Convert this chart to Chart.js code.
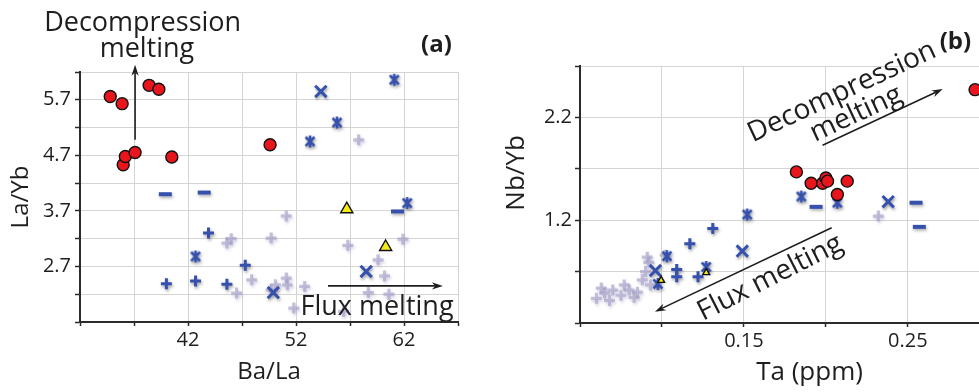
<!DOCTYPE html>
<html>
<head>
<meta charset="utf-8">
<title>Ba/La - La/Yb and Ta - Nb/Yb</title>
<script src="https://cdn.jsdelivr.net/npm/chart.js@4/dist/chart.umd.min.js"></script>
<style>
  html, body { margin: 0; padding: 0; background: #fff; overflow: hidden; }
  #wrap { position: relative; width: 979px; height: 392px; overflow: hidden; }
  #chart-a { position: absolute; left: 0; top: 0; }
  #chart-b { position: absolute; left: 480px; top: 0; }
</style>
</head>
<body>
<div id="wrap">
  <canvas id="chart-a" width="480" height="392"></canvas>
  <canvas id="chart-b" width="580" height="392"></canvas>
</div>
<script>
// --- (a) Ba/La vs La/Yb ---
const aXLabels = [42, 52, 62];
const aYLabels = [2.7, 3.7, 4.7, 5.7];
const aCircleX = [34.8, 35.9, 38.4, 39.3, 36.0, 36.2, 37.1, 40.5, 49.6];
const aCircleY = [5.76, 5.63, 5.96, 5.89, 4.53, 4.68, 4.75, 4.67, 4.89];
const aTriangleX = [56.7, 60.3];
const aTriangleY = [3.73, 3.05];
const aCrossX = [54.3, 58.5, 49.9];
const aCrossY = [5.85, 2.61, 2.23];
const aStarX = [61.1, 55.8, 53.3, 42.7, 62.3];
const aStarY = [6.06, 5.29, 4.95, 2.88, 3.84];
const aDashX = [39.9, 43.5, 61.4];
const aDashY = [4.0, 4.03, 3.69];
const aPlusX = [43.9, 47.3, 40.0, 42.7, 45.6];
const aPlusY = [3.30, 2.72, 2.39, 2.44, 2.38];
const aGreyX = [57.8, 51.1, 49.7, 45.6, 46.0, 56.8, 61.9, 59.6, 60.2, 47.9, 51.1, 51.2, 52.8, 46.5, 50.1, 58.7, 60.6, 51.8, 56.4, 49.7];
const aGreyY = [4.98, 3.61, 3.21, 3.12, 3.20, 3.08, 3.19, 2.82, 2.53, 2.46, 2.49, 2.37, 2.34, 2.22, 2.37, 2.23, 2.20, 1.95, 1.89, 2.28];

// --- (b) Ta (ppm) vs Nb/Yb ---
const bXLabels = [0.15, 0.25];
const bYLabels = [1.2, 2.2];
const bCircleX = [0.291, 0.182, 0.191, 0.198, 0.200, 0.201, 0.213, 0.207];
const bCircleY = [2.47, 1.67, 1.56, 1.56, 1.61, 1.58, 1.58, 1.45];
const bTriangleX = [0.0995, 0.127];
const bTriangleY = [0.615, 0.69];
const bCrossX = [0.238, 0.149, 0.096];
const bCrossY = [1.38, 0.90, 0.71];
const bStarX = [0.185, 0.207, 0.152, 0.127, 0.103, 0.0975];
const bStarY = [1.43, 1.37, 1.255, 0.745, 0.85, 0.58];
const bDashX = [0.194, 0.255, 0.257];
const bDashY = [1.33, 1.37, 1.135];
const bPlusX = [0.131, 0.117, 0.109, 0.109, 0.122];
const bPlusY = [1.12, 0.97, 0.72, 0.65, 0.65];
const bGreyX = [0.060, 0.065, 0.070, 0.075, 0.080, 0.085, 0.088, 0.092, 0.093, 0.102, 0.090, 0.063, 0.077, 0.091, 0.232, 0.068, 0.083];
const bGreyY = [0.44, 0.49, 0.52, 0.47, 0.52, 0.50, 0.62, 0.79, 0.57, 0.86, 0.70, 0.54, 0.57, 0.84, 1.24, 0.42, 0.45];

const FONT = "'Open Sans', 'Noto Sans', sans-serif";
const INK = "#1e1e1e";
const BLUE = "#3550ad";
const RED = "#e8161c";
const YELLOW = "#f3ec16";

const pts = (xs, ys) => xs.map((x, i) => ({ x, y: ys[i] }));

// X with a vertical stroke, the "asterisk" symbol of the figure
function starMarker(color) {
  const c = document.createElement("canvas");
  c.width = 16;
  c.height = 16;
  const g = c.getContext("2d");
  g.strokeStyle = color;
  g.lineWidth = 2.6;
  g.beginPath();
  g.moveTo(3.5, 3.5); g.lineTo(12.5, 12.5);
  g.moveTo(12.5, 3.5); g.lineTo(3.5, 12.5);
  g.moveTo(8, 2); g.lineTo(8, 14);
  g.stroke();
  return c;
}
const STAR = starMarker(BLUE);

// soft grey halo under the blue symbols
const haloPlugin = {
  id: "halo",
  beforeDatasetDraw(chart, args) {
    const ds = chart.data.datasets[args.index];
    if (!ds.halo) return;
    const ctx = chart.ctx;
    ctx.save();
    ctx.shadowColor = ds.halo;
    ctx.shadowBlur = 3;
    ctx.shadowOffsetX = 1;
    ctx.shadowOffsetY = 2;
  },
  afterDatasetDraw(chart, args) {
    if (chart.data.datasets[args.index].halo) chart.ctx.restore();
  },
};

function drawArrow(ctx, x0, y0, x1, y1) {
  const ang = Math.atan2(y1 - y0, x1 - x0);
  const head = 11;
  ctx.save();
  ctx.strokeStyle = INK;
  ctx.fillStyle = INK;
  ctx.lineWidth = 1.6;
  ctx.beginPath();
  ctx.moveTo(x0, y0);
  ctx.lineTo(x1 - Math.cos(ang) * head * 0.7, y1 - Math.sin(ang) * head * 0.7);
  ctx.stroke();
  ctx.translate(x1, y1);
  ctx.rotate(ang);
  ctx.beginPath();
  ctx.moveTo(0, 0);
  ctx.lineTo(-head, -3.6);
  ctx.lineTo(-head * 0.7, 0);
  ctx.lineTo(-head, 3.6);
  ctx.closePath();
  ctx.fill();
  ctx.restore();
}

// texts and arrows, anchored in data units
const notesPlugin = {
  id: "notes",
  afterDatasetsDraw(chart, args, opts) {
    const { ctx } = chart;
    const { x, y } = chart.scales;
    (opts.arrows || []).forEach((a) => {
      drawArrow(ctx, x.getPixelForValue(a.x0), y.getPixelForValue(a.y0),
        x.getPixelForValue(a.x1), y.getPixelForValue(a.y1));
    });
    (opts.texts || []).forEach((t) => {
      ctx.save();
      ctx.translate(x.getPixelForValue(t.x), y.getPixelForValue(t.y));
      ctx.rotate(((t.rot || 0) * Math.PI) / 180);
      ctx.font = `${t.weight || "normal"} ${t.size}px ${FONT}`;
      ctx.fillStyle = INK;
      ctx.textAlign = "center";
      ctx.textBaseline = t.base || "alphabetic";
      ctx.fillText(t.text, 0, 0);
      ctx.restore();
    });
  },
};

function axis(o) {
  return {
    type: "linear",
    min: o.min,
    max: o.max,
    border: { color: "#2b2b2b", width: 2 },
    grid: { color: "#d5d5d5", lineWidth: 1, tickColor: "#2b2b2b", tickLength: o.tickLen, tickWidth: 1.5 },
    ticks: {
      stepSize: o.step,
      autoSkip: false,
      maxRotation: 0,
      minRotation: 0,
      padding: o.tickPad,
      color: INK,
      font: { family: FONT, size: 20 },
      callback: (v) => {
        const hit = o.labels.find((l) => Math.abs(l - v) < 1e-6);
        return hit === undefined ? "" : String(hit);
      },
    },
    title: {
      display: !!o.title,
      text: o.title,
      color: INK,
      font: { family: FONT, size: o.titleSize || 24 },
      padding: o.titlePad || 0,
    },
    afterFit: (s) => {
      if (o.horizontal) s.height = o.fit;
      else s.width = o.fit;
    },
  };
}

function datasets(set, triR) {
  return [
    { data: pts(set.circleX, set.circleY), pointStyle: "circle", pointRadius: 6, backgroundColor: RED, borderColor: "#111", borderWidth: 1.4 },
    { data: pts(set.triX, set.triY), pointStyle: "triangle", pointRadius: triR, backgroundColor: YELLOW, borderColor: "#111", borderWidth: 1.4 },
    { data: pts(set.crossX, set.crossY), pointStyle: "crossRot", pointRadius: 8, borderColor: BLUE, borderWidth: 3, halo: "rgba(90,90,90,0.55)" },
    { data: pts(set.starX, set.starY), pointStyle: STAR, pointRadius: 7, borderColor: BLUE, halo: "rgba(90,90,90,0.55)" },
    { data: pts(set.dashX, set.dashY), pointStyle: "line", pointRadius: 6.5, borderColor: BLUE, borderWidth: 4, halo: "rgba(90,90,90,0.45)" },
    { data: pts(set.plusX, set.plusY), pointStyle: "cross", pointRadius: 5.5, borderColor: BLUE, borderWidth: 3, halo: "rgba(90,90,90,0.55)" },
    { data: pts(set.greyX, set.greyY), pointStyle: "cross", pointRadius: 5.5, borderColor: "rgba(160,156,196,0.6)", borderWidth: 3.2, halo: "rgba(160,156,196,0.7)" },
  ];
}

function makeChart(canvas, set, scales, layoutPad, notes, triR) {
  return new Chart(canvas, {
    type: "scatter",
    data: { datasets: datasets(set, triR) },
    options: {
      responsive: false,
      animation: false,
      devicePixelRatio: 1,
      layout: { padding: layoutPad },
      scales,
      plugins: { legend: { display: false }, tooltip: { enabled: false }, notes },
    },
    plugins: [haloPlugin, notesPlugin],
  });
}

window.addEventListener("DOMContentLoaded", () => {
  makeChart(
    document.querySelector("#chart-a"),
    { circleX: aCircleX, circleY: aCircleY, triX: aTriangleX, triY: aTriangleY, crossX: aCrossX, crossY: aCrossY,
      starX: aStarX, starY: aStarY, dashX: aDashX, dashY: aDashY, plusX: aPlusX, plusY: aPlusY, greyX: aGreyX, greyY: aGreyY },
    {
      x: axis({ min: 32, max: 67, step: 5, labels: aXLabels, title: "Ba/La", titlePad: { bottom: 5 }, horizontal: true, fit: 70, tickLen: 4, tickPad: 2 }),
      y: axis({ min: 1.7, max: 6.2, step: 0.5, labels: aYLabels, title: "La/Yb", titlePad: { top: 7 }, fit: 80, tickLen: 5, tickPad: 4 }),
    },
    { top: 72, right: 22, left: 0, bottom: 0 },
    {
      texts: [
        { text: "Decompression", x: 37.8, y: 6.94, size: 27 },
        { text: "melting", x: 38.2, y: 6.47, size: 27 },
        { text: "(a)", x: 65.0, y: 6.69, size: 24, weight: "bold", base: "middle" },
        { text: "Flux melting", x: 59.5, y: 1.83, size: 27 },
      ],
      arrows: [
        { x0: 37.1, y0: 4.98, x1: 37.1, y1: 6.33 },
        { x0: 54.96, y0: 2.35, x1: 65.6, y1: 2.35 },
      ],
    },
    7
  );

  makeChart(
    document.querySelector("#chart-b"),
    { circleX: bCircleX, circleY: bCircleY, triX: bTriangleX, triY: bTriangleY, crossX: bCrossX, crossY: bCrossY,
      starX: bStarX, starY: bStarY, dashX: bDashX, dashY: bDashY, plusX: bPlusX, plusY: bPlusY, greyX: bGreyX, greyY: bGreyY },
    {
      x: axis({ min: 0.05, max: 0.33, step: 0.05, labels: bXLabels, title: "Ta (ppm)", titleSize: 26, titlePad: { bottom: 4 }, horizontal: true, fit: 69, tickLen: 4, tickPad: 2 }),
      y: axis({ min: 0.2, max: 2.7, step: 0.5, labels: bYLabels, title: "", fit: 100, tickLen: 5, tickPad: 3 }),
    },
    { top: 66, right: 21, left: 0, bottom: 0 },
    {
      texts: [
        { text: "Nb/Yb", x: 0.0116, y: 1.66, size: 26, rot: -90, base: "middle" },
        { text: "Decompression", x: 0.2098, y: 2.447, size: 28, rot: -25, base: "middle" },
        { text: "melting", x: 0.2185, y: 2.233, size: 28, rot: -25, base: "middle" },
        { text: "(b)", x: 0.279, y: 2.93, size: 24, weight: "bold", base: "middle" },
        { text: "Flux melting", x: 0.166, y: 0.638, size: 28, rot: -27, base: "middle" },
      ],
      arrows: [
        { x0: 0.198, y0: 1.93, x1: 0.2713, y1: 2.476 },
        { x0: 0.2035, y0: 1.127, x1: 0.0957, y1: 0.31 },
      ],
    },
    4
  );
});
</script>
</body>
</html>
